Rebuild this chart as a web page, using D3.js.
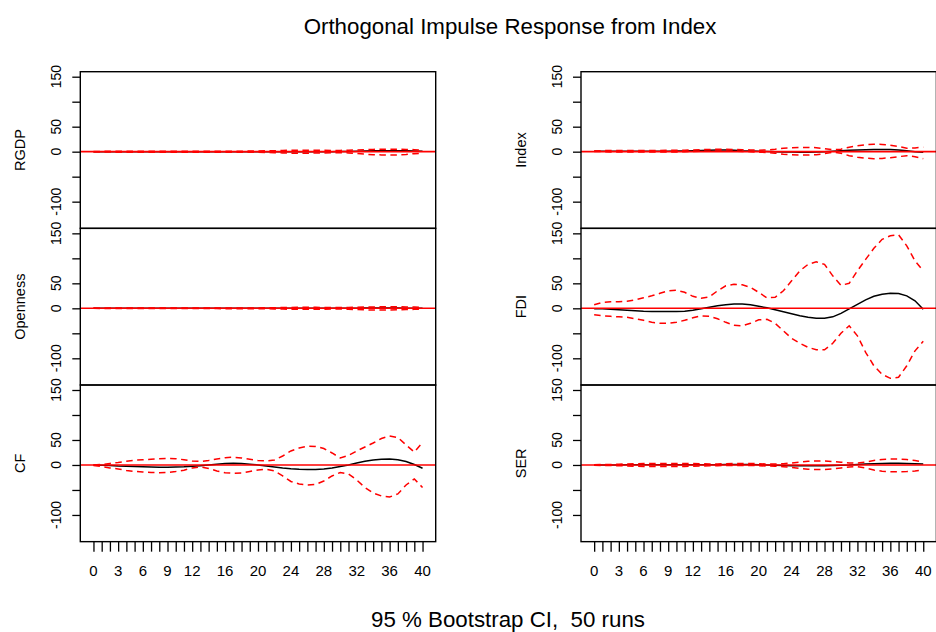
<!DOCTYPE html>
<html>
<head>
<meta charset="utf-8">
<script src="https://cdn.jsdelivr.net/npm/d3@7"></script>
<style>
  html, body { margin: 0; padding: 0; background: #fff; }
  svg { display: block; }
  text { font-family: "Liberation Sans", Arial, sans-serif; fill: #000; }
</style>
</head>
<body>
<svg id="chart" width="936" height="632"></svg>
<script>
// ---------- data ----------
const titleText = "Orthogonal Impulse Response from Index";
const footText = "95 % Bootstrap CI,  50 runs";
const periods = [0,1,2,3,4,5,6,7,8,9,10,11,12,13,14,15,16,17,18,19,20,21,22,23,24,25,26,27,28,29,30,31,32,33,34,35,36,37,38,39,40];
const xTickLabels = [0,3,6,9,12,16,20,24,28,32,36,40];
const yTicks = [-100,-50,0,50,100,150];
const yTickLabels = [150,50,0,-100];
const variables = ["RGDP","Index","Openness","FDI","CF","SER"];

const rgdpIrf   = [0,0,0,0,0,0,0,0,0,0,0,0,0,0,0,0,0,0,0,0,0,0,0,0,0,0,0,0,0,0,0.5,0.5,1,1.5,2,2,2,2,2,1.5,1];
const rgdpUpper = [0.3,0.5,0.8,1,1,1,1,1,0.8,0.8,0.8,0.8,0.8,0.8,1,1,1,1,1,1.2,1.5,1.8,2,2.5,2.8,3,3,3,2.8,2.5,2.5,3,3.5,4,4.5,5,5,5,4.5,4,3];
const rgdpLower = [-0.3,-0.5,-0.8,-1,-1,-1.2,-1.2,-1.2,-1,-1,-1,-1,-1,-1,-1,-1,-1,-1,-1,-1,-1.2,-1.5,-2,-2.5,-3,-3,-3,-2.8,-2.5,-2.2,-2,-2.5,-3.5,-5,-6,-6.5,-6.5,-6.5,-5.5,-4,-3];

const indexIrf   = [1,1,1,1,1,1,1,1,1,1,1.5,1.5,2,2.5,3,3.5,3.5,3,2,1.5,1,0.5,0,-0.5,-0.5,-1,-1,-0.5,0,1,2,3,3.5,4,4.5,4.5,4.5,3.5,2,0,-1];
const indexUpper = [1.5,2,2.5,2.5,2.5,2.5,2.5,2.5,2.5,3,3,3,3.5,4,4.5,5,5,4.5,4,3.5,3,3.5,5,7,8,8.5,8.5,8,6,4,5,9,12,14,15,14.5,13,10.5,7,7.5,9];
const indexLower = [0.5,0,-0.5,-0.5,-0.5,-0.5,-0.5,-0.5,-0.5,-0.5,-0.5,0,0.5,1,1,1.5,1.5,1,0.5,0,-1,-1.5,-3,-5,-6,-6.5,-6.5,-6,-4,-1,-3,-8,-11,-13,-14,-13.5,-12,-10,-8,-10,-14];

const openIrf   = [0,0,0,0,0,0,0,0,0,0,0,0,0,0,0,0,0,0,0,0,0,0,0,0,0,0,0,0,0,0,0,0.3,0.3,0.5,0.5,0.5,0.5,0.5,0.3,0.3,0.3];
const openUpper = [0,0.3,0.5,0.5,0.5,0.5,0.5,0.5,0.5,0.5,0.5,0.5,0.5,0.5,0.5,0.6,0.8,0.8,0.8,0.8,0.8,1,1.2,1.5,1.8,2,2,2,1.8,1.5,1.5,1.8,2,2.5,2.8,3,3,3,2.8,2.5,2];
const openLower = [0,-0.3,-0.5,-0.5,-0.5,-0.5,-0.5,-0.5,-0.5,-0.5,-0.5,-0.5,-0.5,-0.5,-0.5,-0.6,-0.8,-0.8,-0.8,-0.8,-0.8,-1,-1.2,-1.5,-1.8,-2,-2,-2,-1.8,-1.5,-1.5,-2,-2.5,-3,-3.5,-3.5,-3.5,-3,-2.5,-2,-1.5];

const fdiIrf   = [-1,-1,-2,-3,-4,-5,-6,-6.5,-6.5,-6.5,-6.5,-6,-4,-1,2,5,7,8.5,8.5,7,4,1,-3,-7,-11,-15,-18,-20,-20,-17,-10,-1,8,17,24,28,30,29.5,25,15,-2];
const fdiUpper = [7,12,13,13,14,17,21,25,30,35,36,32,24,20,23,35,45,48,47,42,32,21,22,35,55,75,88,93,88,65,46,50,75,98,120,138,145,147,125,95,75];
const fdiLower = [-13,-15,-16,-17,-18,-21,-24,-28,-30,-30,-28,-24,-19,-15,-16,-21,-28,-34,-35,-30,-23,-22,-30,-45,-60,-70,-78,-83,-83,-70,-50,-35,-55,-88,-115,-132,-140,-138,-115,-85,-66];

const cfIrf   = [0,-0.5,-1,-2,-2.5,-3,-3.5,-4,-4.5,-4.5,-4,-3.5,-2.5,-1.5,0,1.5,3,3.5,3,1.5,0,-2,-4,-6,-7.5,-8.5,-9,-9,-8,-6,-3,0,4,7.5,10,11.5,12,10.5,7,1,-6.5];
const cfUpper = [0,1,3,5,7.5,9.5,10.5,11.5,12.5,13,12.5,10.5,8,7,9,12,14.5,15.5,14,11.5,9,8,10,18,28,34,37.5,37,33,24,14,19,28,36,44,53,58,55,40,26,45];
const cfLower = [-1,-3,-6,-8,-11,-13,-14,-15,-15.5,-15,-13,-10.5,-6,-4,-7,-12,-15.5,-16.5,-16,-13,-10,-8.5,-12,-22,-33,-38,-40,-39,-32,-22,-15,-18,-30,-45,-56,-62,-64,-58,-40,-28,-45];

const serIrf   = [0,0,0,0,0.5,0.5,0.5,0.5,0.5,0.5,0.5,0.5,0.5,0.5,0.5,0.5,1,1,1,1,0.5,0,-0.5,-1,-1.5,-1.5,-1.5,-1.5,-1.5,-1,-0.5,0,1,2,2.5,3,3.5,3.5,3,2.5,2];
const serUpper = [0.5,1,1,1.5,2,2.5,3,3,3,3,3,3,3,2.5,2,2,2.5,3,3,3,2.5,2,2,2.5,4,6,7.5,8,8,7,5.5,4,4,6,9,11,12,12,11,9,6];
const serLower = [-0.5,-1,-1,-1.5,-2,-2.5,-3,-3,-3,-3,-3,-3,-2.5,-2,-1.5,-1.5,-1,-1,-1,-1,-1.5,-2,-2.5,-3.5,-5,-7,-8.5,-9,-9,-8,-6,-4,-3.5,-6,-10,-12.5,-13.5,-13.5,-13,-12,-10];

const irfSeries   = [rgdpIrf, indexIrf, openIrf, fdiIrf, cfIrf, serIrf];
const upperSeries = [rgdpUpper, indexUpper, openUpper, fdiUpper, cfUpper, serUpper];
const lowerSeries = [rgdpLower, indexLower, openLower, fdiLower, cfLower, serLower];

// ---------- layout ----------
const svg = d3.select("#chart");
const colLeft = [80.3, 581];
const colWidth = 355.4;
const rowTop = [71.7, 228.35, 385];
const rowHeight = 156.65;
const yDomain = [-153.4, 160];
const xDomain = [-1.6, 41.6];

svg.append("text")
  .attr("x", 510).attr("y", 34)
  .attr("text-anchor", "middle")
  .style("font-size", "22.3px")
  .text(titleText);

svg.append("text")
  .attr("x", 508).attr("y", 627)
  .attr("text-anchor", "middle")
  .style("font-size", "22.3px")
  .style("white-space", "pre")
  .attr("xml:space", "preserve")
  .text(footText);

const lineGen = (x, y) => d3.line().x((d, i) => x(periods[i])).y(d => y(d)).curve(d3.curveLinear);

variables.forEach((name, k) => {
  const col = k % 2, row = Math.floor(k / 2);
  const left = colLeft[col], top = rowTop[row];
  const x = d3.scaleLinear().domain(xDomain).range([left, left + colWidth]);
  const y = d3.scaleLinear().domain(yDomain).range([top + rowHeight, top]);
  const g = svg.append("g");

  // y axis (ticks)
  const yAxis = d3.axisLeft(y).tickValues(yTicks).tickSize(8).tickFormat("");
  const ya = g.append("g").attr("transform", `translate(${left},0)`).call(yAxis);
  ya.select(".domain").remove();
  ya.selectAll("line").attr("stroke", "#000").attr("stroke-width", 1.3);

  // y tick labels (rotated)
  g.selectAll("text.ylab").data(yTickLabels).enter().append("text")
    .attr("class", "ylab")
    .attr("transform", d => `translate(${left - 19},${y(d)}) rotate(-90)`)
    .attr("text-anchor", "middle")
    .style("font-size", "14px")
    .text(d => d);

  // y title
  g.append("text")
    .attr("transform", `translate(${left - 55.5},${top + rowHeight / 2}) rotate(-90)`)
    .attr("text-anchor", "middle")
    .style("font-size", "14.5px")
    .text(name);

  // lines
  g.append("path").datum(irfSeries[k])
    .attr("d", lineGen(x, y)).attr("fill", "none")
    .attr("stroke", "#000").attr("stroke-width", 1.5);
  [upperSeries[k], lowerSeries[k]].forEach(s => {
    g.append("path").datum(s)
      .attr("d", lineGen(x, y)).attr("fill", "none")
      .attr("stroke", "#ff0000").attr("stroke-width", 1.5)
      .attr("stroke-dasharray", "6.5,4.5");
  });
  // zero line
  g.append("line")
    .attr("x1", left).attr("x2", left + colWidth)
    .attr("y1", y(0)).attr("y2", y(0))
    .attr("stroke", "#ff0000").attr("stroke-width", 1.6);

  // box
  g.append("rect")
    .attr("x", left).attr("y", top)
    .attr("width", colWidth).attr("height", rowHeight)
    .attr("fill", "none").attr("stroke", "#000").attr("stroke-width", 1.4);

  // x axis on bottom row
  if (row === 2) {
    const xAxis = d3.axisBottom(x).tickValues(periods).tickSize(10).tickFormat("");
    const xa = g.append("g").attr("transform", `translate(0,${top + rowHeight})`).call(xAxis);
    xa.select(".domain").remove();
    xa.selectAll("line").attr("stroke", "#000").attr("stroke-width", 1.3);
    g.selectAll("text.xlab").data(xTickLabels).enter().append("text")
      .attr("class", "xlab")
      .attr("x", d => x(d)).attr("y", 575.5)
      .attr("text-anchor", "middle")
      .style("font-size", "15px")
      .text(d => d);
  }
});
</script>
</body>
</html>
